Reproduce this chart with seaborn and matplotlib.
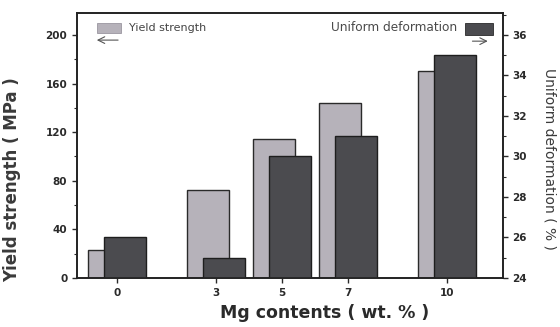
import numpy as np
import matplotlib
matplotlib.use("Agg")
import matplotlib.pyplot as plt
import seaborn as sns
from matplotlib.patches import Rectangle
from matplotlib.ticker import MultipleLocator

# Mg content of the alloys (wt. %)
mg_content = np.array([0, 3, 5, 7, 10])
# Yield strength (MPa), left axis
yield_strength = np.array([23, 72, 114, 144, 170])
# Uniform deformation (%), right axis
uniform_deformation = np.array([26, 25, 30, 31, 35])

light = "#b6b2ba"
dark = "#4b4b4f"
edge = "#1e1e1e"
text_col = "#2a2a2a"

sns.set_theme(style="ticks")
plt.rcParams["font.family"] = ["DejaVu Sans"]

fig = plt.figure(figsize=(5.6, 3.27), dpi=100)
ax = fig.add_axes([0.1375, 0.150, 0.7605, 0.810])
ax2 = ax.twinx()

shift = 0.25
bar_width = 0.635  # fraction of the smallest spacing between Mg levels

sns.barplot(x=mg_content - shift, y=yield_strength, native_scale=True,
            width=bar_width, color=light, edgecolor="#2a2a2a", linewidth=1.0,
            saturation=1, ax=ax)
sns.barplot(x=mg_content + shift, y=uniform_deformation, native_scale=True,
            width=bar_width, color=dark, edgecolor=edge, linewidth=1.0,
            saturation=1, ax=ax2)

ax.set_xlim(-1.21, 11.7)
ax.set_ylim(0, 218)
ax2.set_ylim(24, 24 + 218 * 0.06)

ax.set_xticks(mg_content)
ax.set_xticklabels([str(v) for v in mg_content])
ax.yaxis.set_major_locator(MultipleLocator(40))
ax.yaxis.set_minor_locator(MultipleLocator(20))
ax2.yaxis.set_major_locator(MultipleLocator(2))
ax2.yaxis.set_minor_locator(MultipleLocator(1))

for a in (ax, ax2):
    a.tick_params(axis="both", which="major", direction="out", length=3.5,
                  width=1.0, labelsize=7.5, colors=text_col)
    a.tick_params(axis="y", which="minor", direction="out", length=2,
                  width=0.8, colors=text_col)
    for lab in a.get_xticklabels() + a.get_yticklabels():
        lab.set_fontweight("bold")
    for s in a.spines.values():
        s.set_visible(True)
        s.set_linewidth(1.2)
        s.set_color("#222222")

ax.set_xlabel("Mg contents ( wt. % )", fontsize=12.5, fontweight="bold",
              color=text_col)
ax.xaxis.set_label_coords(0.582, -0.100)
ax.set_ylabel("Yield strength ( MPa )", fontsize=12, fontweight="bold",
              color="#3a3a3a")
ax.yaxis.set_label_coords(-0.131, 0.37)
ax2.set_ylabel("Uniform deformation ( % )", fontsize=10, fontweight="normal",
               color="#3a3a3a", rotation=270)
ax2.yaxis.set_label_coords(1.127, 0.449)

# Series key drawn inside the frame
ax.add_patch(Rectangle((0.047, 0.925), 0.056, 0.038, transform=ax.transAxes,
                       facecolor=light, edgecolor="#9a96a0", lw=0.6,
                       clip_on=False, zorder=5))
ax.text(0.122, 0.944, "Yield strength", transform=ax.transAxes,
        fontsize=8, color="#444444", ha="left", va="center")
ax2.add_patch(Rectangle((0.911, 0.918), 0.066, 0.045, transform=ax.transAxes,
                        facecolor=dark, edgecolor="#2a2a2a", lw=0.6,
                        clip_on=False, zorder=5))
ax2.text(0.892, 0.944, "Uniform deformation", transform=ax.transAxes,
         fontsize=8.7, color="#4a4a4a", ha="right", va="center")

# Arrows pointing to the axis each series belongs to
ax.annotate("", xy=(0.040, 0.898), xytext=(0.103, 0.898),
            xycoords="axes fraction",
            arrowprops=dict(arrowstyle="->", color="#555555", lw=0.8))
ax2.annotate("", xy=(0.971, 0.894), xytext=(0.922, 0.894),
             xycoords="axes fraction",
             arrowprops=dict(arrowstyle="->", color="#555555", lw=0.8))

fig.savefig("out.png", dpi=100)
